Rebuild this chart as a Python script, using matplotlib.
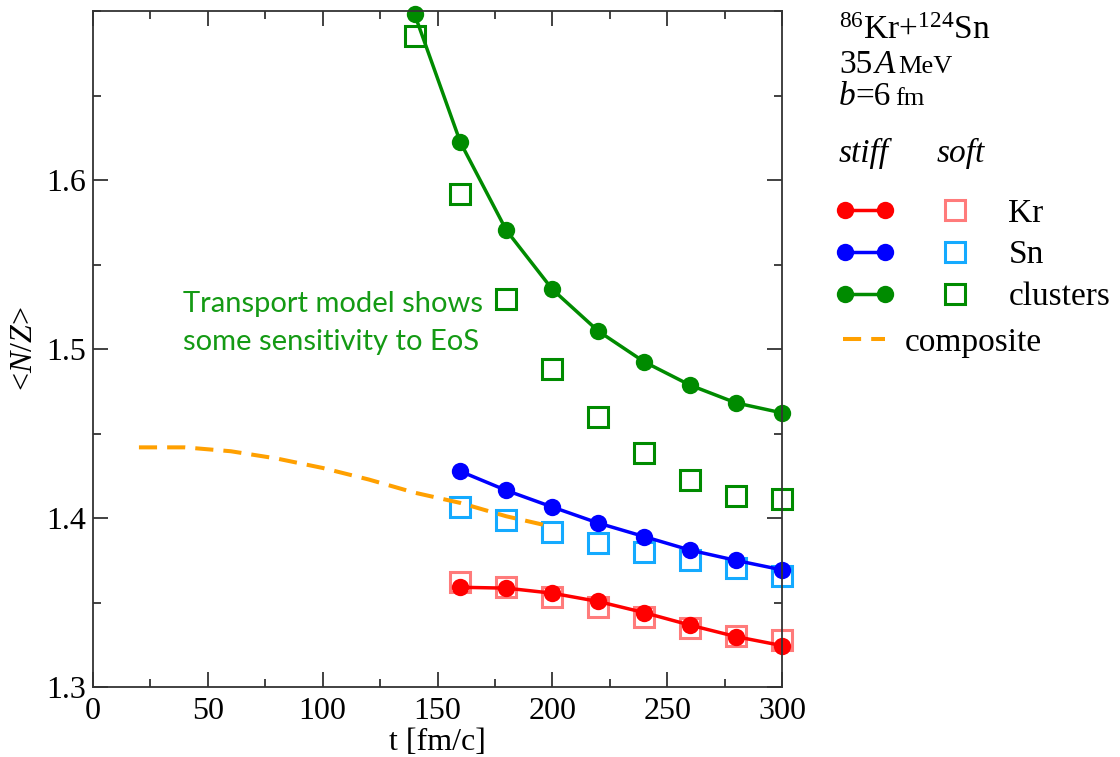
import matplotlib
matplotlib.use('Agg')
import matplotlib.pyplot as plt
from matplotlib.ticker import MultipleLocator
from matplotlib.legend_handler import HandlerLine2D

plt.rcParams['font.family'] = ['Liberation Serif', 'DejaVu Serif']
plt.rcParams['mathtext.fontset'] = 'custom'
plt.rcParams['mathtext.rm'] = 'Liberation Serif'
plt.rcParams['mathtext.it'] = 'Liberation Serif:italic'
plt.rcParams['mathtext.bf'] = 'Liberation Serif:bold'

# time steps [fm/c]
t_clusters = [140, 160, 180, 200, 220, 240, 260, 280, 300]
t_frag = [160, 180, 200, 220, 240, 260, 280, 300]

# <N/Z>, stiff symmetry energy
kr_stiff = [1.359, 1.3585, 1.3555, 1.3506, 1.344, 1.3366, 1.3298, 1.3245]
sn_stiff = [1.4276, 1.4163, 1.4065, 1.397, 1.389, 1.381, 1.3749, 1.3693]
cl_stiff = [1.6982, 1.6222, 1.5702, 1.5353, 1.5106, 1.4924, 1.4786, 1.4681, 1.4622]

# <N/Z>, soft symmetry energy
kr_soft = [1.3624, 1.3589, 1.3535, 1.3472, 1.3413, 1.3351, 1.3302, 1.3279]
sn_soft = [1.4068, 1.399, 1.3917, 1.3855, 1.380, 1.3749, 1.3703, 1.3654]
cl_soft = [1.6854, 1.5916, 1.5293, 1.4883, 1.4598, 1.4385, 1.4227, 1.4128, 1.4114]

# composite system
t_comp = [20, 40, 60, 80, 100, 120, 140, 160, 180, 198]
comp = [1.4418, 1.4418, 1.4395, 1.4352, 1.4296, 1.4228, 1.4150, 1.4089, 1.4010, 1.3954]

RED, BLUE, GREEN = '#ff0000', '#0000ff', '#008b00'
PINK, CYAN, ORANGE = '#ff7b7b', '#14aaff', '#ffa000'
TXT_GREEN = '#149a14'

fig = plt.figure(figsize=(11.2, 7.57), dpi=100)
ax = fig.add_axes([93 / 1120, 1 - 687 / 757, 689 / 1120, 676 / 757])

sq = dict(ls='none', marker='s', ms=14.5, mew=2.2, mfc='none', clip_on=False)
h_kr_soft, = ax.plot(t_frag, kr_soft, mec=PINK, **sq)
h_sn_soft, = ax.plot(t_frag, sn_soft, mec=CYAN, **sq)
h_cl_soft, = ax.plot(t_clusters, cl_soft, mec=GREEN, **sq)

h_comp, = ax.plot(t_comp, comp, color=ORANGE, lw=2.9, ls=(0, (4.5, 2.5)))

st = dict(lw=2.5, marker='o', ms=12.5, mew=0, clip_on=False)
h_kr, = ax.plot(t_frag, kr_stiff, color=RED, **st)
h_sn, = ax.plot(t_frag, sn_stiff, color=BLUE, **st)
h_cl, = ax.plot(t_clusters, cl_stiff, color=GREEN, **st)

ax.set_xlim(0, 300)
ax.set_ylim(1.3, 1.7)
ax.set_xticks([0, 50, 100, 150, 200, 250, 300])
ax.set_yticks([1.3, 1.4, 1.5, 1.6])
ax.xaxis.set_minor_locator(MultipleLocator(25))
ax.yaxis.set_minor_locator(MultipleLocator(0.05))
ax.tick_params(which='both', direction='in', top=True, right=True,
               color='#333333', width=1.3, labelsize=23)
ax.tick_params(which='major', length=11)
ax.tick_params(which='minor', length=5.5)
ax.tick_params(axis='x', pad=7)
ax.tick_params(axis='y', pad=5)
for s in ax.spines.values():
    s.set_color('#333333')
    s.set_linewidth(1.3)

ax.set_xlabel('t [fm/c]', fontsize=23, labelpad=2)
ax.set_ylabel('<$N/Z$>', fontsize=23, labelpad=5)

fig.text(183 / 1120, 1 - 350 / 757, 'Transport model shows\nsome sensitivity to EoS',
         fontsize=21, color=TXT_GREEN, family=['Lato', 'DejaVu Sans'],
         va='baseline', linespacing=1.55)

# reaction info, written piece by piece on a common baseline
renderer = fig.canvas.get_renderer()


def chain(x_px, base_px, parts):
    x = x_px / 1120
    for s, gap, kw in parts:
        x += gap / 1120
        t = fig.text(x, 1 - base_px / 757, s, va='baseline', **kw)
        x += t.get_window_extent(renderer).width / fig.bbox.width


chain(839, 39, [(r'$^{86}$Kr+$^{124}$Sn', 0, dict(fontsize=24))])
chain(839, 73, [('35', 0, dict(fontsize=24)), ('A', 3, dict(fontsize=24, style='italic')),
                ('MeV', 3, dict(fontsize=19))])
chain(839, 105, [('b', 0, dict(fontsize=24, style='italic')), ('=6', 0, dict(fontsize=24)),
                 ('fm', 4, dict(fontsize=19))])
fig.text(839 / 1120, 1 - 162 / 757, 'stiff', fontsize=24, style='italic', va='baseline')
fig.text(937 / 1120, 1 - 162 / 757, 'soft', fontsize=24, style='italic', va='baseline')

hm = {h: HandlerLine2D(numpoints=1) for h in (h_kr_soft, h_sn_soft, h_cl_soft)}
leg = fig.legend([h_kr, h_sn, h_cl, h_kr_soft, h_sn_soft, h_cl_soft],
                 ['', '', '', 'Kr', 'Sn', 'clusters'],
                 ncol=2, loc='upper left', bbox_to_anchor=(835 / 1120, 1 - 198 / 757),
                 frameon=False, fontsize=24, numpoints=2, handlelength=1.8,
                 handletextpad=0.7, columnspacing=0.2, labelspacing=0.34,
                 borderpad=0, borderaxespad=0, handler_map=hm)
fig.legend([h_comp], ['composite'], loc='upper left',
           bbox_to_anchor=(843 / 1120, 1 - 327 / 757), frameon=False, fontsize=24,
           handlelength=1.25, handletextpad=0.6, borderpad=0, borderaxespad=0)

fig.savefig('out.png', dpi=100)
